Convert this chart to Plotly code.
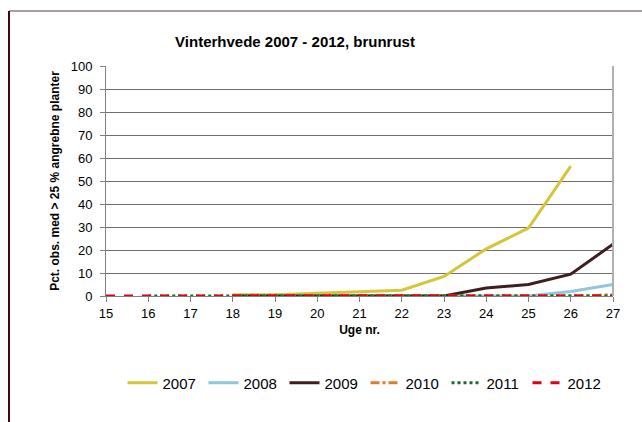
import plotly.graph_objects as go

weeks = list(range(15, 28))
# values per week 15..27 (None = no observation)
s2007 = [None, None, None, 0.5, 0.5, 1.2, 1.8, 2.5, 8.5, 20.5, 29.5, 56.5, None]
s2008 = [None, None, None, 0, 0, 0, 0, 0, 0, 0, 0, 2.0, 5.0]
s2009 = [None, None, None, 0, 0, 0, 0, 0, 0, 3.5, 5.0, 9.5, 22.5]
s2010 = [None, None, None, 0, 0, 0, 0, 0, 0, 0, 0, 0, 0.5]
s2011 = [None, 0, 0, 0, 0, 0, 0, 0, 0, 0, 0, 0, 0]
s2012 = [0, 0, 0, 0, 0, 0, 0, 0, 0, 0, 0, 0, 0]

title = "Vinterhvede 2007 - 2012, brunrust"
x_title = "Uge nr."
y_title = "Pct. obs. med > 25 % angrebne planter"

series = [
    ("2007", s2007, "#d4c53a", "solid"),
    ("2008", s2008, "#92c5de", "solid"),
    ("2009", s2009, "#3d1f1f", "solid"),
    ("2010", s2010, "#e07b28", "dashdot"),
    ("2011", s2011, "#1e6b30", "dot"),
    ("2012", s2012, "#e3000f", "dash"),
]

fig = go.Figure()
for name, vals, color, dash in series:
    fig.add_trace(go.Scatter(
        x=weeks, y=vals, name=name, mode="lines",
        line=dict(color=color, width=3, dash=dash),
        cliponaxis=False, connectgaps=False,
    ))

font = "Liberation Sans, Arial, sans-serif"
L, R, T, B = 106, 29, 66, 126
W, H = 642, 422
pw, ph = W - L - R, H - T - B

def px(x):
    return (x - L) / pw

def py(y):
    return (H - B - y) / ph

fig.update_layout(
    width=W, height=H,
    margin=dict(l=L, r=R, t=T, b=B),
    paper_bgcolor="white", plot_bgcolor="white",
    font=dict(family=font, size=13, color="#000000"),
    title=dict(text="<b>" + title + "</b>", xref="container", x=295 / W, xanchor="center",
               y=1 - 42 / H, yanchor="middle",
               font=dict(size=15)),
    showlegend=True,
    legend=dict(orientation="h", x=0.5 + 6 / pw, xanchor="center", y=py(383), yanchor="middle",
                font=dict(size=15), entrywidth=36, entrywidthmode="pixels",
                bgcolor="rgba(0,0,0,0)"),
    xaxis=dict(range=[15, 27], tickmode="linear", dtick=1, showgrid=False,
               showline=True, linecolor="#808080", linewidth=1,
               ticks="outside", ticklen=5, tickcolor="#808080",
               tickfont=dict(size=13),
               title=dict(text="<b>" + x_title + "</b>", font=dict(size=12), standoff=6),
               zeroline=False),
    yaxis=dict(range=[0, 100], tickmode="linear", dtick=10, showgrid=True,
               gridcolor="#707070", gridwidth=1,
               showline=True, linecolor="#808080", linewidth=1,
               ticks="outside", ticklen=5, tickcolor="#808080",
               tickfont=dict(size=13), ticklabelstandoff=5,
               title=dict(text="<b>" + y_title + "</b>", font=dict(size=12), standoff=8),
               zeroline=False),
    shapes=[
        dict(type="line", xref="paper", yref="paper", x0=1, x1=1, y0=0, y1=1,
             line=dict(color="#b0b0b0", width=2)),
        dict(type="line", xref="paper", yref="paper", x0=px(9), x1=px(642), y0=py(11), y1=py(11),
             line=dict(color="#5a3a3a", width=1)),
        dict(type="line", xref="paper", yref="paper", x0=px(9), x1=px(9), y0=py(11), y1=py(422),
             line=dict(color="#3a0a0a", width=2)),
    ],
)

fig.write_html("out.html", config={"displayModeBar": False},
               post_script="document.body.style.margin='0';")
